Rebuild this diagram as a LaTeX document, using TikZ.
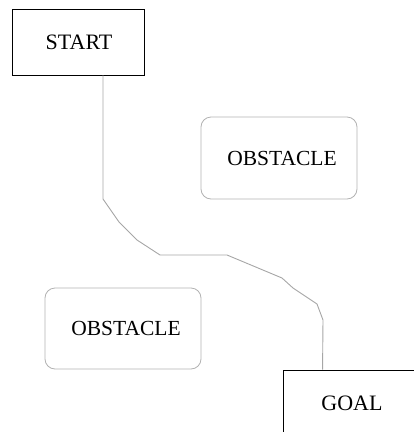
\documentclass[tikz,border=0pt]{standalone}
\usepackage{fontspec}
\setmainfont{Liberation Serif}
\tikzset{
  termbox/.style={draw=black, line width=0.9pt, minimum width=132pt, minimum height=66pt, inner sep=0pt, font=\fontsize{22}{26}\selectfont},
  obstbox/.style={draw=black!30, line width=0.8pt, rounded corners=10pt, minimum width=156pt, minimum height=82pt, inner sep=0pt, font=\fontsize{21.5}{26}\selectfont},
  pathline/.style={draw=black!35, line width=0.9pt}
}
\begin{document}
\begin{tikzpicture}[x=1pt,y=-1pt]
\useasboundingbox (0,0) rectangle (414,432);
\clip (0,0) rectangle (414,432);
\node[termbox] (start) at (78,42) {\hspace*{2pt}START};
\node[obstbox] (obs1) at (279,158) {\hspace*{6pt}OBSTACLE};
\node[obstbox, minimum height=81pt] (obs2) at (123,328.5) {\hspace*{6pt}OBSTACLE};
\node[termbox, minimum width=138pt] (goal) at (352,403) {GOAL};
\coordinate (p0) at ([xshift=25pt]start.south);
\coordinate (p9) at ([xshift=40pt]goal.north west);
\draw[pathline] (p0) -- (103,199) -- (119,222) -- (137,240) -- (160,255) -- (227,255) -- (282,278) -- (293,288) -- (317,304) -- (323,320) -- (p9);
\end{tikzpicture}
\end{document}
